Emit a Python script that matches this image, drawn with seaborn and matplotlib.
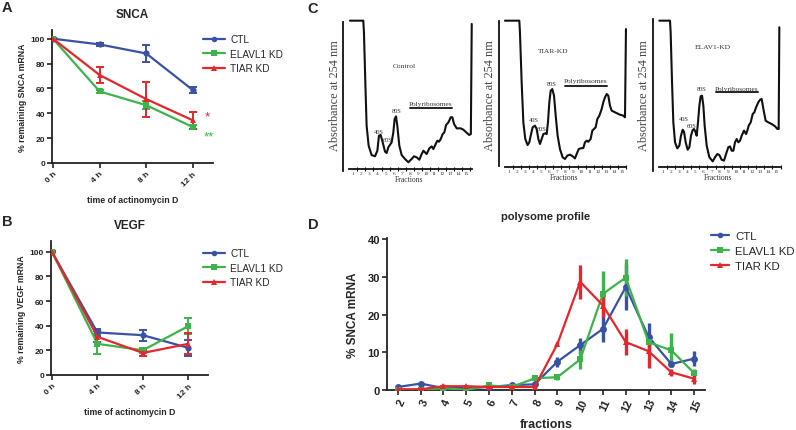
import numpy as np
import pandas as pd
import matplotlib
matplotlib.use('Agg')
import matplotlib.pyplot as plt
import seaborn as sns
from matplotlib.lines import Line2D

sns.set_style('ticks')
plt.rcParams['font.family'] = ['Liberation Sans', 'DejaVu Sans']

# ---------------- data ----------------
groups = ['CTL', 'ELAVL1 KD', 'TIAR KD']
colors = {'CTL': '#3a52a3', 'ELAVL1 KD': '#3cb44b', 'TIAR KD': '#e5262d'}
marks = {'CTL': 'o', 'ELAVL1 KD': 's', 'TIAR KD': '^'}

time_labels = ['0 h', '4 h', '8 h', '12 h']

snca_ctl = [100, 95.4, 88.1, 58.6]
snca_ctl_err = [0.5, 1.0, 7.0, 2.2]
snca_elavl1 = [100, 57.6, 46.5, 28.9]
snca_elavl1_err = [0.5, 1.0, 3.0, 1.5]
snca_tiar = [100, 70.8, 51.4, 34.3]
snca_tiar_err = [0.5, 6.5, 14.0, 7.0]

vegf_ctl = [100, 34.5, 32.3, 22.0]
vegf_ctl_err = [0.5, 3.0, 4.5, 6.5]
vegf_elavl1 = [100, 25.3, 20.1, 39.7]
vegf_elavl1_err = [0.5, 8.0, 2.0, 6.8]
vegf_tiar = [100, 31.0, 17.9, 25.3]
vegf_tiar_err = [0.5, 4.5, 2.5, 8.5]

fractions = [2, 3, 4, 5, 6, 7, 8, 9, 10, 11, 12, 13, 14, 15]
poly_ctl = [0.8, 1.7, 0.5, 0.5, 0.8, 1.3, 1.5, 7.5, 11.9, 16.2, 27.3, 14.1, 6.9, 8.3]
poly_ctl_err = [0.3, 0.3, 0.3, 0.3, 0.3, 0.6, 0.3, 1.3, 2.0, 3.5, 6.0, 3.6, 0.8, 2.0]
poly_elavl1 = [0.0, 0.0, 0.5, 0.0, 1.2, 0.8, 3.1, 3.4, 8.1, 25.5, 29.8, 12.7, 10.5, 4.5]
poly_elavl1_err = [0.2, 0.2, 0.3, 0.3, 0.5, 0.3, 0.5, 0.8, 2.5, 6.0, 5.0, 1.0, 4.5, 1.0]
poly_tiar = [0.2, 0.2, 1.0, 1.0, 0.8, 0.8, 0.8, 12.2, 28.7, 22.4, 12.7, 10.3, 4.7, 3.0]
poly_tiar_err = [0.2, 0.2, 0.7, 0.4, 0.3, 0.3, 0.4, 0.5, 4.5, 3.0, 3.5, 4.5, 1.0, 1.3]

# polysome absorbance traces (fraction position, absorbance a.u.)
ctrl_x = [0.59, 2.24, 2.32, 2.49, 2.65, 2.90, 3.27, 3.69, 3.98, 4.18, 4.39, 4.64, 4.93, 5.13,
          5.34, 5.55, 5.75, 5.96, 6.12, 6.29, 6.45, 6.70, 6.99, 7.40, 7.82, 8.23, 8.52, 8.85,
          9.18, 9.47, 9.68, 9.88, 10.09, 10.42, 10.71, 10.92, 11.21, 11.41, 11.62, 11.83,
          12.07, 12.28, 12.49, 12.78, 13.07, 13.27, 13.48, 13.81, 14.31, 14.64, 14.98, 15.36,
          15.56, 15.67]
ctrl_y = [100, 100, 92.2, 58.9, 30.0, 16.7, 10.4, 9.6, 13.3, 23.3, 23.8, 18.9, 12.7, 11.8,
          15.6, 17.3, 18.9, 25.6, 34.4, 36.2, 30.0, 16.7, 10.4, 7.8, 5.6, 7.8, 9.6, 8.9,
          7.3, 11.1, 13.3, 12.2, 11.1, 14.9, 16.2, 14.4, 17.8, 20.0, 19.3, 21.1,
          24.4, 25.6, 30.4, 32.2, 35.6, 35.6, 31.1, 28.2, 28.2, 27.3, 25.6, 23.8,
          24.4, 97.8]
tiar_x = [0.50, 2.28, 2.36, 2.57, 2.78, 3.02, 3.31, 3.52, 3.69, 3.93, 4.22, 4.43, 4.64, 4.84,
          5.05, 5.26, 5.50, 5.67, 5.83, 6.00, 6.17, 6.37, 6.58, 6.79, 7.03, 7.32, 7.65, 7.94,
          8.23, 8.56, 8.89, 9.18, 9.39, 9.64, 9.88, 10.21, 10.42, 10.63, 10.83, 11.12, 11.33,
          11.54, 11.74, 11.95, 12.20, 12.49, 12.69, 12.90, 13.11, 13.31, 13.52, 13.73, 14.14,
          14.76, 15.17, 15.38, 15.50]
tiar_y = [100, 100, 92.2, 58.9, 32.2, 21.1, 17.1, 18.9, 23.3, 28.9, 30.0, 27.8, 21.1, 17.8,
          21.1, 24.4, 24.9, 24.4, 32.2, 45.6, 53.3, 54.4, 50.0, 36.7, 23.3, 14.4, 8.9, 7.8,
          10.0, 10.7, 9.6, 8.2, 11.1, 14.4, 14.9, 15.1, 18.9, 20.0, 19.3, 21.1, 26.7,
          27.8, 28.9, 34.4, 36.7, 41.1, 45.6, 48.9, 51.1, 50.0, 43.3, 40.0, 38.9,
          37.3, 36.7, 35.6, 94.4]
elav_x = [0.59, 1.90, 1.98, 2.15, 2.31, 2.52, 2.80, 3.05, 3.25, 3.46, 3.62, 3.83, 4.07, 4.28,
          4.48, 4.69, 4.85, 5.02, 5.18, 5.34, 5.51, 5.67, 5.84, 6.00, 6.16, 6.41, 6.74, 7.15,
          7.43, 7.72, 7.97, 8.25, 8.54, 8.79, 9.07, 9.28, 9.48, 9.69, 9.89, 10.10, 10.30,
          10.51, 10.71, 11.00, 11.25, 11.41, 11.57, 11.82, 12.07, 12.27, 12.48, 12.76, 12.97,
          13.17, 13.38, 13.66, 13.99, 14.40, 14.81, 15.10, 15.26, 15.34]
elav_y = [100, 100, 92.2, 58.9, 32.2, 18.9, 14.9, 16.7, 23.3, 27.3, 26.0, 18.9, 14.0, 15.6,
          23.3, 27.1, 27.8, 26.0, 23.3, 32.2, 43.3, 49.6, 50.0, 43.3, 30.0, 16.7, 8.9, 6.2,
          8.9, 11.1, 10.4, 7.3, 6.7, 11.1, 15.6, 16.2, 13.3, 13.3, 18.9, 21.1, 18.9,
          20.0, 23.3, 26.7, 24.4, 26.7, 30.0, 32.2, 37.8, 38.9, 42.2, 45.6, 47.3,
          47.8, 41.1, 33.3, 32.2, 31.1, 29.6, 27.8, 27.8, 95.6]
frac_labels = [str(i) for i in range(1, 16)]

# ---------------- figure ----------------
W, H = 796, 431
fig = plt.figure(figsize=(W / 100, H / 100), dpi=100)


def ax_px(left, top, right, bottom):
    return fig.add_axes([left / W, 1 - bottom / H, (right - left) / W, (bottom - top) / H])


def style_prism(ax, fs):
    for s in ['top', 'right']:
        ax.spines[s].set_visible(False)
    for s in ['left', 'bottom']:
        ax.spines[s].set_linewidth(1.3)
        ax.spines[s].set_color('#222222')
    ax.tick_params(width=1.2, length=3.5, labelsize=fs, colors='#222222', pad=1.5)
    for lab in ax.get_xticklabels() + ax.get_yticklabels():
        lab.set_fontweight('bold')


def decay_panel(ax, vals, errs, title, ylabel):
    rows = []
    for g in groups:
        for i, v in enumerate(vals[g]):
            rows.append({'t': i, 'v': v, 'g': g})
    df = pd.DataFrame(rows)
    sns.lineplot(data=df, x='t', y='v', hue='g', style='g', markers=marks, dashes=False,
                 palette=colors, markersize=4.5, markeredgewidth=0, linewidth=1.6,
                 ax=ax, legend=False, zorder=3)
    for g in groups:
        ax.errorbar(range(4), vals[g], yerr=errs[g], fmt='none', ecolor=colors[g],
                    elinewidth=1.4, capsize=2.8, capthick=1.4, zorder=2)
    ax.set_xlim(-0.02, 3.43)
    ax.set_xticks(range(4))
    ax.set_xticklabels(time_labels, rotation=45, ha='right', rotation_mode='anchor')
    ax.set_yticks([0, 20, 40, 60, 80, 100])
    style_prism(ax, 6)
    ax.set_title(title, fontsize=8.5, fontweight='bold', pad=9)
    ax.set_xlabel('time of actinomycin D', fontsize=6.3, fontweight='bold', labelpad=6)
    ax.set_ylabel(ylabel, fontsize=6.3, fontweight='bold', labelpad=3)


def legend(ax, anchor, fs, hl):
    handles = [Line2D([], [], color=colors[g], marker=marks[g], markersize=4, lw=1.6,
                      markeredgewidth=0) for g in groups]
    ax.legend(handles, groups, loc='upper left', bbox_to_anchor=anchor,
              bbox_transform=fig.transFigure, frameon=False, fontsize=fs,
              handlelength=hl, handletextpad=0.5, labelspacing=0.45, borderaxespad=0,
              borderpad=0)


# Panel A
axA = ax_px(52, 31, 213, 164)
decay_panel(axA, {'CTL': snca_ctl, 'ELAVL1 KD': snca_elavl1, 'TIAR KD': snca_tiar},
            {'CTL': snca_ctl_err, 'ELAVL1 KD': snca_elavl1_err, 'TIAR KD': snca_tiar_err},
            'SNCA', '% remaining SNCA mRNA')
axA.set_ylim(0, 107)
legend(axA, (203 / W, 1 - 35 / H), 7.2, 2.2)
axA.text(3.3, 37.5, '*', color=colors['TIAR KD'], fontsize=9.5, ha='center', va='center',
         clip_on=False)
axA.text(3.35, 21, '**', color=colors['ELAVL1 KD'], fontsize=9.5, ha='center', va='center',
         clip_on=False)

# Panel B
axB = ax_px(51, 242, 208, 376)
decay_panel(axB, {'CTL': vegf_ctl, 'ELAVL1 KD': vegf_elavl1, 'TIAR KD': vegf_tiar},
            {'CTL': vegf_ctl_err, 'ELAVL1 KD': vegf_elavl1_err, 'TIAR KD': vegf_tiar_err},
            'VEGF', '% remaining VEGF mRNA')
axB.set_ylim(0, 108.7)
legend(axB, (203 / W, 1 - 249 / H), 7.2, 2.2)

# Panel D
axD = ax_px(387, 239, 705, 391)
rows = []
pv = {'CTL': poly_ctl, 'ELAVL1 KD': poly_elavl1, 'TIAR KD': poly_tiar}
pe = {'CTL': poly_ctl_err, 'ELAVL1 KD': poly_elavl1_err, 'TIAR KD': poly_tiar_err}
for g in groups:
    for f, v in zip(fractions, pv[g]):
        rows.append({'f': f, 'v': v, 'g': g})
dfD = pd.DataFrame(rows)
for g in groups:
    axD.errorbar(fractions, pv[g], yerr=pe[g], fmt='none', ecolor=colors[g],
                 elinewidth=2.4, capsize=0, zorder=2)
sns.lineplot(data=dfD, x='f', y='v', hue='g', style='g', markers=marks, dashes=False,
             palette=colors, markersize=5, markeredgewidth=0, linewidth=1.6,
             ax=axD, legend=False, zorder=3)
axD.set_xlim(1.52, 15.48)
axD.set_ylim(0, 40.3)
axD.set_xticks(fractions)
axD.set_xticklabels([str(f) for f in fractions], rotation=65, ha='right',
                    rotation_mode='anchor')
axD.set_yticks([0, 10, 20, 30, 40])
style_prism(axD, 8)
axD.set_title('polysome profile', fontsize=8, fontweight='bold', pad=14)
axD.set_xlabel('fractions', fontsize=9, fontweight='bold', labelpad=4)
axD.set_ylabel('% SNCA mRNA', fontsize=8.5, fontweight='bold', labelpad=6)
legend(axD, (711 / W, 1 - 232 / H), 8.2, 1.6)

# Panel C
serif = ['Liberation Serif', 'DejaVu Serif']


def profile(left, right, x, y, lbounds, bpos, bbounds, name, name_xy, labs, poly_xy, bar):
    ax = ax_px(left, 15.67, right, 174.67)
    sns.lineplot(x=x, y=y, sort=False, estimator=None, color='#111111', linewidth=1.5, ax=ax)
    ax.set_xlim(-0.3, 16)
    ax.set_ylim(-2, 104)
    ax.spines['top'].set_visible(False)
    ax.spines['right'].set_visible(False)
    ax.spines['left'].set_position(('data', -0.24))
    ax.spines['left'].set_bounds(*lbounds)
    ax.spines['bottom'].set_position(('data', bpos))
    ax.spines['bottom'].set_bounds(*bbounds)
    for s in ['left', 'bottom']:
        ax.spines[s].set_linewidth(1.3)
        ax.spines[s].set_color('#111111')
    ax.set_yticks([])
    ax.set_xticks(range(1, 16))
    ax.set_xticklabels(frac_labels, family=serif, fontsize=3.8, color='#333333')
    ax.set_xticks(np.arange(1.5, 15.6, 1.0), minor=True)
    ax.tick_params(axis='x', which='major', length=0, pad=1.5)
    ax.tick_params(axis='x', which='minor', length=3, width=0.8, direction='inout',
                   colors='#111111')
    ax.set_xlabel('Fractions', family=serif, fontsize=5.5, color='#333333', labelpad=-0.5)
    ax.set_ylabel('Absorbance at 254 nm', family=serif, fontsize=8.8, color='#444444',
                  labelpad=2)
    ax.text(*name_xy, name, family=serif, fontsize=5.4, color='#333333', ha='center',
            va='center')
    for t, (tx, ty) in zip(['40S', '60S', '80S'], labs):
        ax.text(tx, ty, t, family=serif, fontsize=4.6, color='#333333', ha='center',
                va='center')
    ax.text(*poly_xy, 'Polyribosomes', family=serif, fontsize=5.2, color='#333333',
            ha='center', va='center')
    ax.plot(bar[:2], [bar[2], bar[2]], color='#222222', lw=1.4)
    return ax


profile(342.8, 474.4, ctrl_x, ctrl_y, (0, 99.3), 1.1, (0.5, 15.67), 'Control', (7.28, 69.8),
        [(4.17, 25.8), (5.29, 21.1), (6.41, 40.4)], (10.63, 45.0), (8.02, 13.23, 41.8))
profile(498.5, 630.0, tiar_x, tiar_y, (3.3, 100), 2.2, (0.5, 15.5), 'TIAR-KD', (6.45, 79.8),
        [(4.10, 33.8), (5.09, 28.4), (6.33, 58.4)], (10.54, 59.8), (7.94, 13.14, 56.4))
profile(652.1, 784.7, elav_x, elav_y, (0, 101), 2.2, (0.59, 15.4), 'ELAV1-KD', (7.19, 83.1),
        [(3.62, 35.1), (4.60, 30.4), (5.83, 55.1)], (10.14, 55.1), (7.56, 12.72, 52.4))

# panel letters
for letter, (px, py) in {'A': (7, 8), 'B': (7, 222), 'C': (313, 9), 'D': (313, 225)}.items():
    fig.text(px / W, 1 - py / H, letter, fontsize=10.5, fontweight='bold', ha='center',
             va='center')

fig.savefig('out.png', dpi=100)
